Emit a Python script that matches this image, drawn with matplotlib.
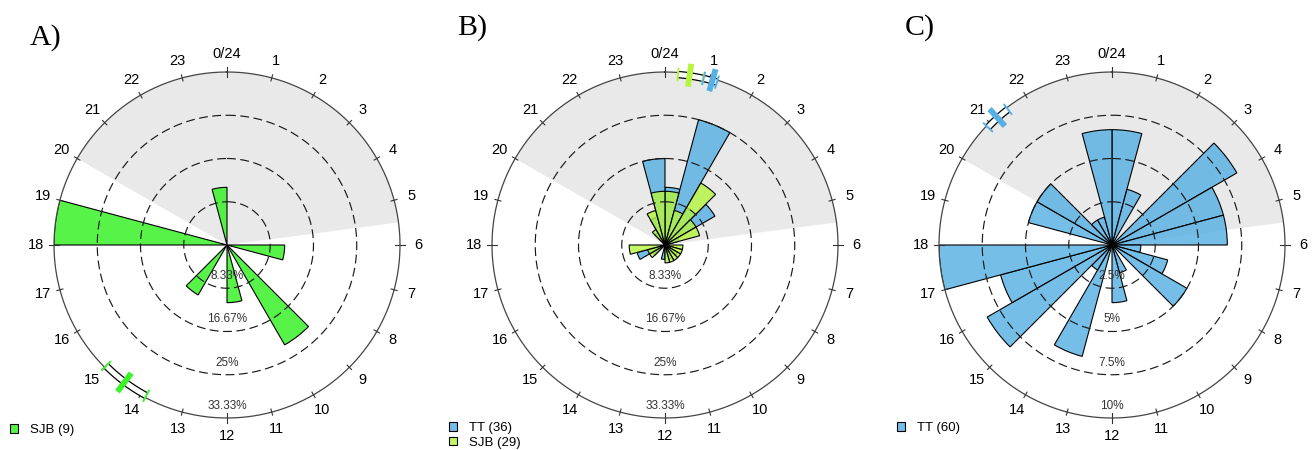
import numpy as np
import matplotlib
matplotlib.use("Agg")
import matplotlib.pyplot as plt

plt.rcParams["font.family"] = ["Liberation Sans", "DejaVu Sans"]

# hourly detection counts, bin h covers h..h+1 o'clock
A_SJB = [0, 0, 0, 0, 0, 0, 1, 0, 0, 2, 0, 1, 0, 0, 1, 0, 0, 0, 3, 0, 0, 0, 0, 1]
B_TT = [4, 9, 3, 4, 1, 0, 0, 0, 1, 0, 1, 0, 1, 0, 0, 1, 2, 0, 0, 0, 0, 1, 2, 6]
B_SJB = [3, 2, 4, 2, 2, 0, 1, 1, 1, 1, 1, 1, 0, 0, 0, 1, 1, 2, 0, 0, 0, 1, 2, 3]
C_TT = [4, 2, 0, 5, 4, 4, 1, 2, 3, 0, 1, 2, 0, 4, 1, 5, 4, 6, 0, 3, 3, 1, 1, 4]

# mean hour and its confidence arc (hours)
A_SJB_MEAN, A_SJB_CI = 14.45, (13.88, 15.0)
B_TT_MEAN, B_TT_CI = 1.07, (0.87, 1.18)
B_SJB_MEAN, B_SJB_CI = 0.55, (0.29, 0.86)
C_TT_MEAN, C_TT_CI = 21.2, (20.9, 21.5)

NIGHT = (20.0, 5.5)                      # sunset -> sunrise
RMAX = {"A": 1 / 3, "B": 1 / 3, "C": 0.10}
RING_LABELS = {"A": ["8.33%", "16.67%", "25%", "33.33%"],
               "B": ["8.33%", "16.67%", "25%", "33.33%"],
               "C": ["2.5%", "5%", "7.5%", "10%"]}

COL_SJB_A = (0.23, 0.95, 0.16, 0.85)
COL_TT = (0.34, 0.69, 0.89, 0.82)
COL_SJB_B = (0.71, 0.96, 0.24, 0.80)

W, H = 1314, 450
H2R = 2 * np.pi / 24


def polar_panel(fig, cx, cy, key):
    R = 173
    ax = fig.add_axes([(cx - R) / W, (H - cy - R) / H, 2 * R / W, 2 * R / H], projection="polar")
    ax.set_theta_zero_location("N")
    ax.set_theta_direction(-1)
    rmax = RMAX[key]
    ax.set_ylim(0, rmax)
    ax.axis("off")

    # night shading
    ax.bar(NIGHT[0] * H2R, rmax, width=(24 - NIGHT[0] + NIGHT[1]) * H2R, align="edge",
           color="#e9e9e9", lw=0, zorder=0)

    th = np.linspace(0, 2 * np.pi, 500)
    for k, lab in enumerate(RING_LABELS[key], start=1):
        r = rmax * k / 4
        if k < 4:
            ax.plot(th, np.full_like(th, r), color="#1a1a1a", lw=0.85, ls=(0, (7.5, 3.8)), zorder=4)
        ax.text(np.pi, r - 0.07 * rmax, lab, ha="center", va="center", fontsize=8.5,
                color="#333333", zorder=6)
    ax.plot(th, np.full_like(th, rmax), color="#444444", lw=0.9, zorder=4, clip_on=False)

    for h in range(24):
        t = h * H2R
        d = 0.03 if h % 6 == 0 else 0.018
        ax.plot([t, t], [rmax * (1 - d), rmax * (1 + d)], color="#333333", lw=0.8,
                clip_on=False, zorder=4)
        ax.text(t, rmax * 1.104, "0/24" if h == 0 else str(h), ha="center", va="center",
                fontsize=10.5, clip_on=False)
    return ax, rmax


def rose(ax, counts, color):
    counts = np.asarray(counts, float)
    prop = counts / counts.sum()
    return ax.bar(np.arange(24) * H2R, prop, width=H2R, align="edge", facecolor=color,
                  edgecolor="black", lw=0.8, zorder=2)


def mean_marker(ax, rmax, mean, ci, color):
    t = np.linspace(ci[0], ci[1], 60) * H2R
    r = np.full_like(t, rmax * 0.988)
    ax.plot(t, r, color="black", lw=5.4, solid_capstyle="butt", clip_on=False, zorder=7)
    ax.plot(t, r, color="white", lw=3.6, solid_capstyle="butt", clip_on=False, zorder=8)
    c = color[:3]
    for e in ci:
        ax.plot([e * H2R] * 2, [rmax * 0.955, rmax * 1.022], color=c, lw=1.4,
                clip_on=False, zorder=9)
    ax.plot([mean * H2R] * 2, [rmax * 0.925, rmax * 1.058], color=c, lw=4.2,
            solid_capstyle="butt", clip_on=False, zorder=10)


fig = plt.figure(figsize=(W / 100, H / 100), dpi=100)

axA, rA = polar_panel(fig, 227, 245, "A")
hA = rose(axA, A_SJB, COL_SJB_A)
mean_marker(axA, rA, A_SJB_MEAN, A_SJB_CI, COL_SJB_A)

axB, rB = polar_panel(fig, 665, 245, "B")
hB1 = rose(axB, B_TT, COL_TT)
hB2 = rose(axB, B_SJB, COL_SJB_B)
mean_marker(axB, rB, B_SJB_MEAN, B_SJB_CI, COL_SJB_B)
mean_marker(axB, rB, B_TT_MEAN, B_TT_CI, COL_TT)

axC, rC = polar_panel(fig, 1112, 245, "C")
hC = rose(axC, C_TT, COL_TT)
mean_marker(axC, rC, C_TT_MEAN, C_TT_CI, COL_TT)

leg_kw = dict(loc="upper left", bbox_transform=fig.transFigure, frameon=False, fontsize=9.5,
              handlelength=0.62, handleheight=0.62, handletextpad=0.9, borderpad=0,
              borderaxespad=0, labelspacing=0.2)
fig.legend([hA], [f"SJB ({sum(A_SJB)})"], bbox_to_anchor=(10 / W, 1 - 424 / H), **leg_kw)
fig.legend([hB1, hB2], [f"TT ({sum(B_TT)})", f"SJB ({sum(B_SJB)})"],
           bbox_to_anchor=(449 / W, 1 - 422 / H), **leg_kw)
fig.legend([hC], [f"TT ({sum(C_TT)})"], bbox_to_anchor=(897 / W, 1 - 422 / H), **leg_kw)

for x, y, s in [(30, 45, "A)"), (457, 35, "B)"), (905, 35, "C)")]:
    fig.text(x / W, 1 - y / H, s, family="Liberation Serif", fontsize=21.5, va="baseline")

fig.savefig("out.png", dpi=100)
